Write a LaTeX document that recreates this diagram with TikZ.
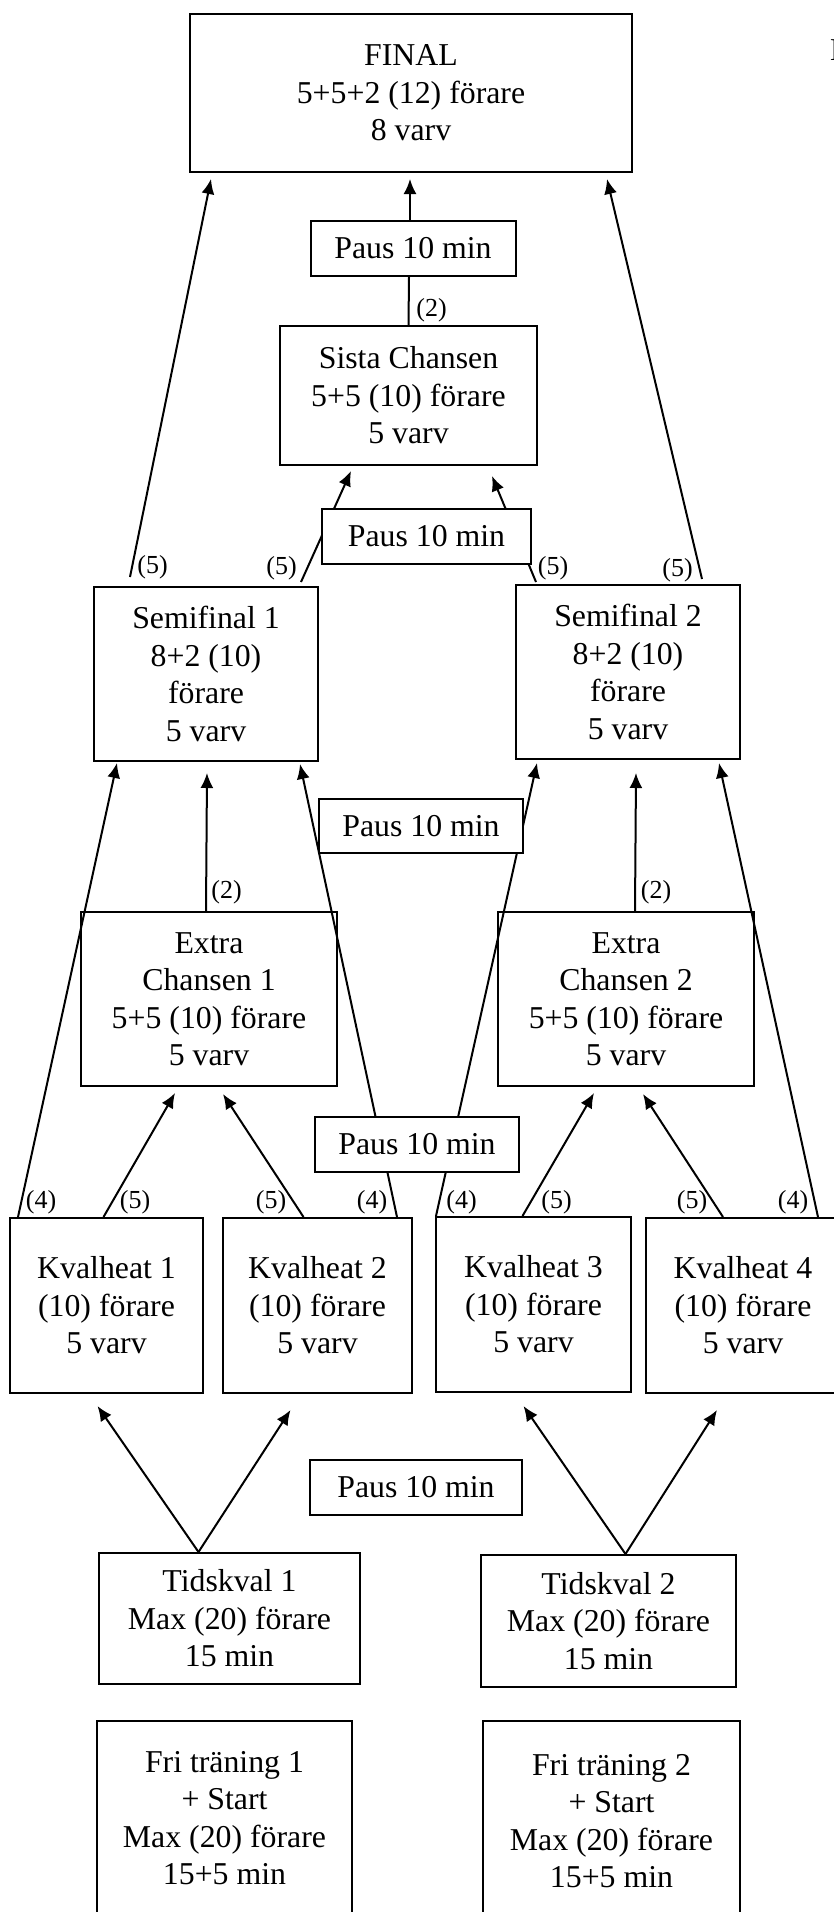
\documentclass[tikz,border=0pt]{standalone}
\usepackage{fontspec}
\setmainfont{Liberation Serif}
\usetikzlibrary{arrows.meta}

\begin{document}
\begin{tikzpicture}[x=1pt, y=-1pt,
  box/.style={draw, line width=2pt, inner sep=0pt, align=center, font=\fontsize{31.8}{37.5}\selectfont},
  paus/.style={box, fill=white, minimum width=205pt, minimum height=55pt},
  lbl/.style={inner sep=0pt, font=\fontsize{26}{30}\selectfont},
  arr/.style={line width=2pt, -{Latex[length=15pt,width=13pt]}},
  ln/.style={line width=2pt}]

\useasboundingbox (0,0) rectangle (833,1912);

% final and last chance
\node[box, minimum width=442pt, minimum height=158pt] (final) at (411,93) {FINAL\\5+5+2 (12) förare\\8 varv};
\node[paus] (paus1) at (413,248.5) {Paus 10 min};
\node[box, minimum width=257pt, minimum height=139pt] (sista) at (408.5,395.5) {Sista Chansen\\5+5 (10) förare\\5 varv};

% semifinals
\node[box, minimum width=224pt, minimum height=174pt] (sf1) at (206,674) {Semifinal 1\\8+2 (10)\\förare\\5 varv};
\node[box, minimum width=224pt, minimum height=174pt] (sf2) at (628,672) {Semifinal 2\\8+2 (10)\\förare\\5 varv};

% extra chances
\node[box, minimum width=256pt, minimum height=174pt] (ec1) at (209,999) {Extra\\Chansen 1\\5+5 (10) förare\\5 varv};
\node[box, minimum width=256pt, minimum height=174pt] (ec2) at (626,999) {Extra\\Chansen 2\\5+5 (10) förare\\5 varv};

% heats
\node[box, minimum width=193pt, minimum height=175pt] (kh1) at (106.5,1305.5) {Kvalheat 1\\(10) förare\\5 varv};
\node[box, minimum width=189pt, minimum height=175pt] (kh2) at (317.5,1305.5) {Kvalheat 2\\(10) förare\\5 varv};
\node[box, minimum width=195pt, minimum height=175pt] (kh3) at (533.5,1304.5) {Kvalheat 3\\(10) förare\\5 varv};
\node[box, minimum width=194pt, minimum height=175pt] (kh4) at (743,1305.5) {Kvalheat 4\\(10) förare\\5 varv};

% time trials and practice
\node[box, minimum width=261pt, minimum height=131pt] (tk1) at (229.5,1618.5) {Tidskval 1\\Max (20) förare\\15 min};
\node[box, minimum width=255pt, minimum height=132pt] (tk2) at (608.5,1621) {Tidskval 2\\Max (20) förare\\15 min};
\node[box, minimum width=255pt, minimum height=194pt] (ft1) at (224.5,1818) {Fri träning 1\\+ Start\\Max (20) förare\\15+5 min};
\node[box, minimum width=257pt, minimum height=200pt] (ft2) at (611.5,1821) {Fri träning 2\\+ Start\\Max (20) förare\\15+5 min};

\node[box, draw=none, anchor=base west] (note) at (829,60) {N};

% to the final
\draw[arr] ([xshift=-3pt]paus1.north) -- ([xshift=-1pt,yshift=-6pt]final.south);
\draw[ln] (sista.north) -- ([xshift=-4pt]paus1.south);
\draw[arr] ([xshift=-76pt,yshift=9pt]sf1.north) -- ([xshift=22pt,yshift=-6pt]final.south west);
\draw[arr] ([xshift=74pt,yshift=5pt]sf2.north) -- ([xshift=-26pt,yshift=-6pt]final.south east);

% to the last chance
\draw[arr] ([xshift=-18pt,yshift=4pt]sf1.north east) -- ([xshift=72pt,yshift=-5pt]sista.south west);
\draw[arr] ([xshift=21pt,yshift=2pt]sf2.north west) -- ([xshift=-46pt,yshift=-10pt]sista.south east);

% to the semifinals
\draw[arr] ([xshift=9pt]kh1.north west) -- ([xshift=24pt,yshift=-1pt]sf1.south west);
\draw[arr] ([xshift=-3pt]ec1.north) -- ([xshift=1pt,yshift=-11pt]sf1.south);
\draw[arr] ([xshift=-16pt]kh2.north east) -- ([xshift=-19pt,yshift=-2pt]sf1.south east);
\draw[arr] ([xshift=1pt]kh3.north west) -- ([xshift=22pt,yshift=-3pt]sf2.south west);
\draw[arr] ([xshift=9pt]ec2.north) -- ([xshift=8pt,yshift=-13pt]sf2.south);
\draw[arr] ([xshift=-23pt]kh4.north east) -- ([xshift=-22pt,yshift=-3pt]sf2.south east);

% to the extra chances
\draw[arr] ([xshift=-3pt]kh1.north) -- ([xshift=-34pt,yshift=-6pt]ec1.south);
\draw[arr] ([xshift=-14pt]kh2.north) -- ([xshift=14pt,yshift=-7pt]ec1.south);
\draw[arr] ([xshift=-11pt]kh3.north) -- ([xshift=-32pt,yshift=-6pt]ec2.south);
\draw[arr] ([xshift=-20pt]kh4.north) -- ([xshift=17pt,yshift=-7pt]ec2.south);

% to the heats
\draw[arr] ([xshift=-31pt]tk1.north) -- ([xshift=-9pt,yshift=-12pt]kh1.south);
\draw[arr] ([xshift=-31pt]tk1.north) -- ([xshift=-27pt,yshift=-16pt]kh2.south);
\draw[arr] ([xshift=17pt]tk2.north) -- ([xshift=-10pt,yshift=-13pt]kh3.south);
\draw[arr] ([xshift=17pt]tk2.north) -- ([xshift=-26pt,yshift=-16pt]kh4.south);

% pauses on top of the lines
\node[paus, minimum width=209pt] (paus2) at (426.5,536.5) {Paus 10 min};
\node[paus, minimum width=204pt, minimum height=54pt] (paus3) at (421,826) {Paus 10 min};
\node[paus, minimum width=204pt] (paus4) at (417,1144.5) {Paus 10 min};
\node[paus, minimum width=212pt] (paus5) at (416,1487.5) {Paus 10 min};

% number of drivers
\node[lbl] (n0) at (431.5,310) {(2)};
\node[lbl] (n1) at (152.5,567) {(5)};
\node[lbl] (n2) at (281.5,568) {(5)};
\node[lbl] (n3) at (553,568) {(5)};
\node[lbl] (n4) at (677.5,570) {(5)};
\node[lbl] (n5) at (226.5,892) {(2)};
\node[lbl] (n6) at (656,892) {(2)};
\node[lbl] (n7) at (41,1202) {(4)};
\node[lbl] (n8) at (135,1202) {(5)};
\node[lbl] (n9) at (271,1202) {(5)};
\node[lbl] (n10) at (372,1202) {(4)};
\node[lbl] (n11) at (461.5,1202) {(4)};
\node[lbl] (n12) at (556.5,1202) {(5)};
\node[lbl] (n13) at (692,1202) {(5)};
\node[lbl] (n14) at (793,1202) {(4)};

\end{tikzpicture}
\end{document}
